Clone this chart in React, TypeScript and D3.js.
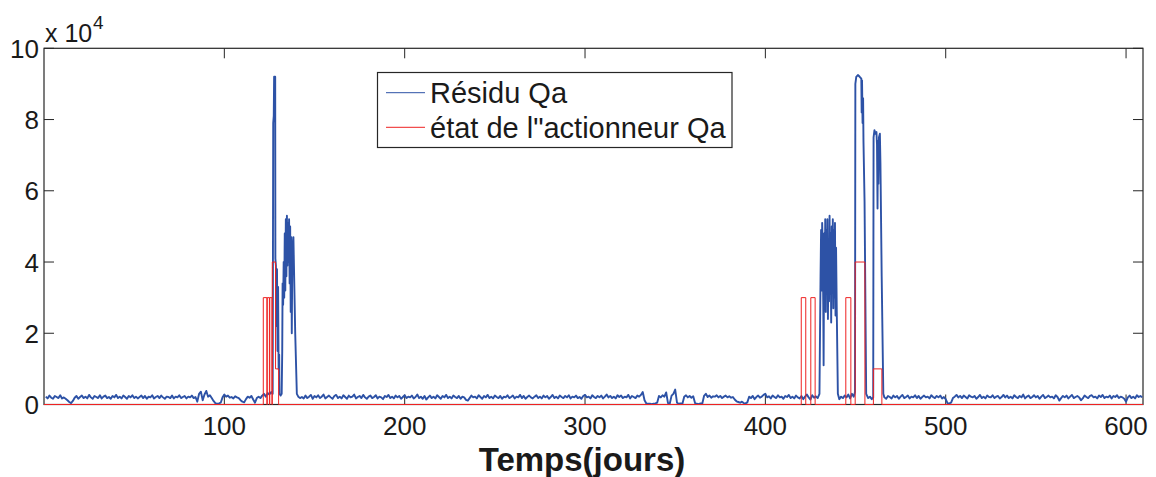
import React from "react";
import * as d3 from "d3";

// Residual Qa (x 10^4), daily samples, days 1..119
const baselineA = [
  0.22,0.17,0.25,0.19,0.16,0.24,0.21,0.18,0.26,0.17,
  0.20,0.16,0.12,0.07,0.04,0.10,0.19,0.24,0.16,0.21,
  0.25,0.18,0.22,0.17,0.27,0.20,0.16,0.24,0.21,0.18,
  0.26,0.17,0.22,0.25,0.18,0.21,0.16,0.24,0.20,0.27,
  0.18,0.22,0.17,0.25,0.21,0.16,0.24,0.20,0.26,0.18,
  0.22,0.17,0.21,0.25,0.18,0.24,0.16,0.22,0.20,0.26,
  0.17,0.21,0.24,0.18,0.25,0.20,0.16,0.22,0.21,0.18,
  0.25,0.17,0.22,0.20,0.26,0.18,0.21,0.24,0.17,0.22,
  0.20,0.25,0.18,0.21,0.08,0.30,0.36,0.12,0.28,0.38,
  0.22,0.26,0.18,0.10,0.04,0.02,0.03,0.05,0.20,0.28,
  0.22,0.25,0.19,0.21,0.17,0.23,0.20,0.18,0.12,0.08,
  0.06,0.15,0.22,0.19,0.24,0.14,0.05,0.18,0.22,
];

// First fault burst: [day, value]
const burst1: [number, number][] = [
  [120,0.18],[121,0.25],[122,0.30],[123,0.22],[124,0.32],[125,0.28],[126,0.35],[126.8,0.3],
  [127.1,7.9],[127.4,8.1],[127.6,9.2],[128.2,9.2],[128.3,4.1],[128.6,3.9],[128.9,2.2],[129.2,3.8],
  [129.5,1.5],[129.8,3.3],[130.1,1.0],[130.4,1.4],[130.6,0.3],[131.2,0.25],[131.8,0.3],[132.1,1.5],
  [132.3,3.4],[132.6,2.8],[132.9,4.0],[133.2,3.0],[133.5,4.8],[133.8,3.2],[134.1,5.2],[134.4,3.6],
  [134.7,5.3],[135,3.9],[135.3,5.1],[135.6,4.0],[135.9,5.2],[136.2,3.4],[136.5,5.0],[136.8,2.6],
  [137.1,4.7],[137.4,2.0],[137.7,4.2],[138.3,4.7],[139.3,2.0],[140.2,0.3],[141,0.22],[142,0.18],
];

// Daily samples, days 143..417
const baselineB = [
  0.21,0.17,0.25,0.18,0.22,0.27,0.16,0.24,0.20,0.26,
  0.18,0.22,0.28,0.17,0.21,0.25,0.20,0.16,0.24,0.27,
  0.18,0.22,0.17,0.26,0.21,0.16,0.25,0.20,0.22,0.28,
  0.17,0.21,0.24,0.18,0.27,0.20,0.16,0.22,0.25,0.18,
  0.21,0.26,0.17,0.22,0.20,0.15,0.24,0.21,0.27,0.18,
  0.22,0.17,0.25,0.20,0.24,0.16,0.21,0.26,0.18,0.22,
  0.20,0.25,0.17,0.21,0.28,0.18,0.22,0.16,0.24,0.14,
  0.20,0.25,0.18,0.22,0.17,0.26,0.21,0.16,0.24,0.20,
  0.27,0.18,0.22,0.17,0.25,0.21,0.18,0.24,0.16,0.22,
  0.20,0.13,0.11,0.18,0.25,0.20,0.22,0.17,0.26,0.21,
  0.16,0.24,0.20,0.27,0.18,0.22,0.17,0.25,0.21,0.18,
  0.24,0.16,0.22,0.20,0.26,0.18,0.21,0.25,0.17,0.22,
  0.20,0.27,0.18,0.24,0.16,0.21,0.25,0.20,0.17,0.22,
  0.26,0.18,0.22,0.17,0.25,0.20,0.24,0.16,0.21,0.27,
  0.18,0.22,0.17,0.25,0.21,0.18,0.24,0.20,0.26,0.17,
  0.22,0.20,0.25,0.18,0.21,0.16,0.24,0.27,0.20,0.22,
  0.17,0.26,0.21,0.18,0.24,0.20,0.25,0.17,0.22,0.28,
  0.20,0.24,0.18,0.22,0.17,0.26,0.21,0.25,0.18,0.22,
  0.20,0.27,0.17,0.24,0.21,0.18,0.25,0.22,0.27,0.35,
  0.12,0.03,0.02,0.02,0.01,0.02,0.03,0.05,0.24,0.20,
  0.26,0.22,0.34,0.04,0.03,0.25,0.30,0.42,0.05,0.02,
  0.03,0.02,0.22,0.26,0.20,0.24,0.19,0.23,0.04,0.02,
  0.01,0.03,0.02,0.24,0.30,0.21,0.25,0.19,0.23,0.22,
  0.26,0.20,0.24,0.18,0.22,0.25,0.20,0.23,0.19,0.21,
  0.14,0.09,0.07,0.05,0.08,0.04,0.03,0.06,0.22,0.18,
  0.24,0.15,0.21,0.25,0.19,0.22,0.27,0.30,0.20,0.23,
  0.17,0.25,0.21,0.18,0.26,0.20,0.22,0.16,0.24,0.21,
  0.27,0.18,0.22,0.17,0.25,
];

// Second fault burst: [day, value]
const burst2: [number, number][] = [
  [418,0.20],[419,0.17],[420,0.24],[421,0.15],[422,0.22],[423,0.28],[424,0.20],[425,0.14],
  [426,0.26],[427,0.19],[428,0.23],[429,0.18],[430,0.30],[430.3,2.0],[430.6,3.6],[430.9,4.9],
  [431.2,3.2],[431.5,5.1],[431.8,4.4],[432.1,2.8],[432.3,1.1],[432.6,4.8],[432.9,3.0],[433.2,5.2],
  [433.5,2.6],[433.8,4.9],[434.1,3.3],[434.4,5.2],[434.7,2.4],[435,4.6],[435.3,2.9],[435.6,5.3],
  [435.9,3.1],[436.2,4.8],[436.5,2.3],[436.8,5.0],[437.1,3.4],[437.4,5.2],[437.7,2.7],[438,4.9],
  [438.3,3.0],[438.6,5.1],[438.9,2.5],[439.2,4.4],[439.6,2.6],[440.2,0.3],[441,0.15],[442,0.22],
  [443,0.18],[444,0.25],[445,0.20],[446,0.28],[447,0.17],[448,0.30],[449,0.22],[449.7,0.35],
  [449.9,9.0],[450.4,9.2],[451.3,9.25],[452.3,9.2],[453.2,9.15],[453.4,8.2],[453.6,9.1],[453.9,7.9],
  [454.2,8.6],[454.4,7.4],[455.0,5.7],[455.9,0.3],[457,0.18],[458,0.22],[459,0.15],[459.8,0.2],
  [460.0,7.5],[460.5,7.7],[461,7.6],[461.6,7.65],[461.9,7.3],[462.2,5.5],[462.4,7.4],[462.7,6.2],
  [463,7.5],[463.5,7.6],[463.8,6.8],[464.5,3.6],[465.4,0.3],[466,0.2],[467,0.16],[468,0.24],
];

// Daily samples, days 469..609
const baselineC = [
  0.21,0.17,0.25,0.20,0.24,0.16,0.22,0.27,0.18,0.21,
  0.25,0.17,0.22,0.20,0.26,0.18,0.24,0.16,0.21,0.25,
  0.20,0.22,0.17,0.26,0.21,0.18,0.24,0.20,0.25,0.17,
  0.21,0.15,0.04,0.03,0.05,0.18,0.22,0.27,0.20,0.24,
  0.18,0.25,0.21,0.17,0.26,0.22,0.20,0.24,0.16,0.21,
  0.27,0.18,0.22,0.17,0.25,0.21,0.20,0.26,0.18,0.22,
  0.24,0.17,0.21,0.27,0.20,0.25,0.18,0.22,0.17,0.26,
  0.21,0.18,0.24,0.20,0.28,0.17,0.22,0.25,0.18,0.21,
  0.26,0.20,0.24,0.16,0.22,0.27,0.18,0.21,0.25,0.20,
  0.22,0.17,0.26,0.21,0.11,0.18,0.24,0.20,0.25,0.17,
  0.22,0.27,0.18,0.21,0.24,0.20,0.12,0.17,0.25,0.21,
  0.18,0.24,0.26,0.20,0.22,0.17,0.25,0.21,0.27,0.18,
  0.22,0.20,0.25,0.17,0.24,0.21,0.26,0.18,0.22,0.20,
  0.16,0.08,0.20,0.25,0.18,0.22,0.17,0.26,0.21,0.24,0.20,
];

// Actuator state (step changes): [day, value]
const actuatorSteps: [number, number][] = [
  [0,0],[121.6,3],[123.6,0],[123.8,3],[125.0,0],[125.2,3],[126.4,0],[126.6,4],[128.4,1],[130.1,0],
  [419.9,3],[422.4,0],[425.2,3],[427.6,0],[444.6,3],[447.4,0],[449.8,4],[455.2,0],[459.9,1],[464.6,0],
  [609.4,0],
];

const xTicks = [100, 200, 300, 400, 500, 600];
const yTicks = [0, 2, 4, 6, 8, 10];
const legendLabels = ["Résidu Qa", "état de l\"actionneur Qa"];
const xLabel = "Temps(jours)";

const FONT = "'Liberation Sans', Arial, Helvetica, sans-serif";

export default function App() {
  const W = 1156, H = 477;
  const x = d3.scaleLinear().domain([0, 609.4]).range([44, 1143]);
  const y = d3.scaleLinear().domain([0, 10]).range([404.5, 48.3]);

  const residual: [number, number][] = [
    ...baselineA.map((v, i) => [i + 1, v] as [number, number]),
    ...burst1,
    ...baselineB.map((v, i) => [i + 143, v] as [number, number]),
    ...burst2,
    ...baselineC.map((v, i) => [i + 469, v] as [number, number]),
  ];

  const line = d3.line<[number, number]>().x(d => x(d[0])).y(d => y(d[1]));
  const stepLine = d3.line<[number, number]>().x(d => x(d[0])).y(d => y(d[1])).curve(d3.curveStepAfter);

  const [x0, x1] = x.range();
  const [yb, yt] = y.range();
  const tl = 10;
  const axisColor = "#262626";

  return (
    <svg width={W} height={H} style={{ position: "absolute", left: 0, top: 0, background: "#fff" }}
      fontFamily={FONT}>
      <rect x={0} y={0} width={W} height={H} fill="#fff" />
      {/* box */}
      <rect x={x0} y={yt} width={x1 - x0} height={yb - yt} fill="none" stroke={axisColor} strokeWidth={1.2} />
      {/* ticks */}
      {xTicks.map(t => (
        <g key={"xt" + t}>
          <line x1={x(t)} x2={x(t)} y1={yb} y2={yb - tl} stroke={axisColor} strokeWidth={1} />
          <line x1={x(t)} x2={x(t)} y1={yt} y2={yt + tl} stroke={axisColor} strokeWidth={1} />
          <text x={x(t)} y={435} textAnchor="middle" fontSize={26} fill="#1a1a1a">{t}</text>
        </g>
      ))}
      {yTicks.map(t => (
        <g key={"yt" + t}>
          <line x1={x0} x2={x0 + tl} y1={y(t)} y2={y(t)} stroke={axisColor} strokeWidth={1} />
          <line x1={x1} x2={x1 - tl} y1={y(t)} y2={y(t)} stroke={axisColor} strokeWidth={1} />
          <text x={39} y={y(t) + 9.5} textAnchor="end" fontSize={26} fill="#1a1a1a">{t}</text>
        </g>
      ))}
      {/* exponent */}
      <text x={45} y={42} fontSize={25} fill="#1a1a1a">x 10</text>
      <text x={93} y={29} fontSize={19} fill="#1a1a1a">4</text>

      {/* data */}
      <path d={line(residual) || ""} fill="none" stroke="#2d52a6" strokeWidth={1.9} strokeLinejoin="round" />
      <path d={stepLine(actuatorSteps) || ""} fill="none" stroke="#ee2222" strokeWidth={1} />

      {/* legend */}
      <rect x={377.5} y={72.5} width={354.5} height={75} fill="#fff" stroke={axisColor} strokeWidth={1.2} />
      <line x1={386} x2={425} y1={92.7} y2={92.7} stroke="#2d52a6" strokeWidth={1} />
      <line x1={386} x2={425} y1={127.3} y2={127.3} stroke="#ee2222" strokeWidth={1} />
      <text x={430} y={103} fontSize={29} fill="#1a1a1a">{legendLabels[0]}</text>
      <text x={430} y={137.5} fontSize={29} fill="#1a1a1a">{legendLabels[1]}</text>

      {/* x label */}
      <text x={582} y={471} textAnchor="middle" fontSize={33} fontWeight="bold" fill="#1a1a1a">{xLabel}</text>
    </svg>
  );
}
